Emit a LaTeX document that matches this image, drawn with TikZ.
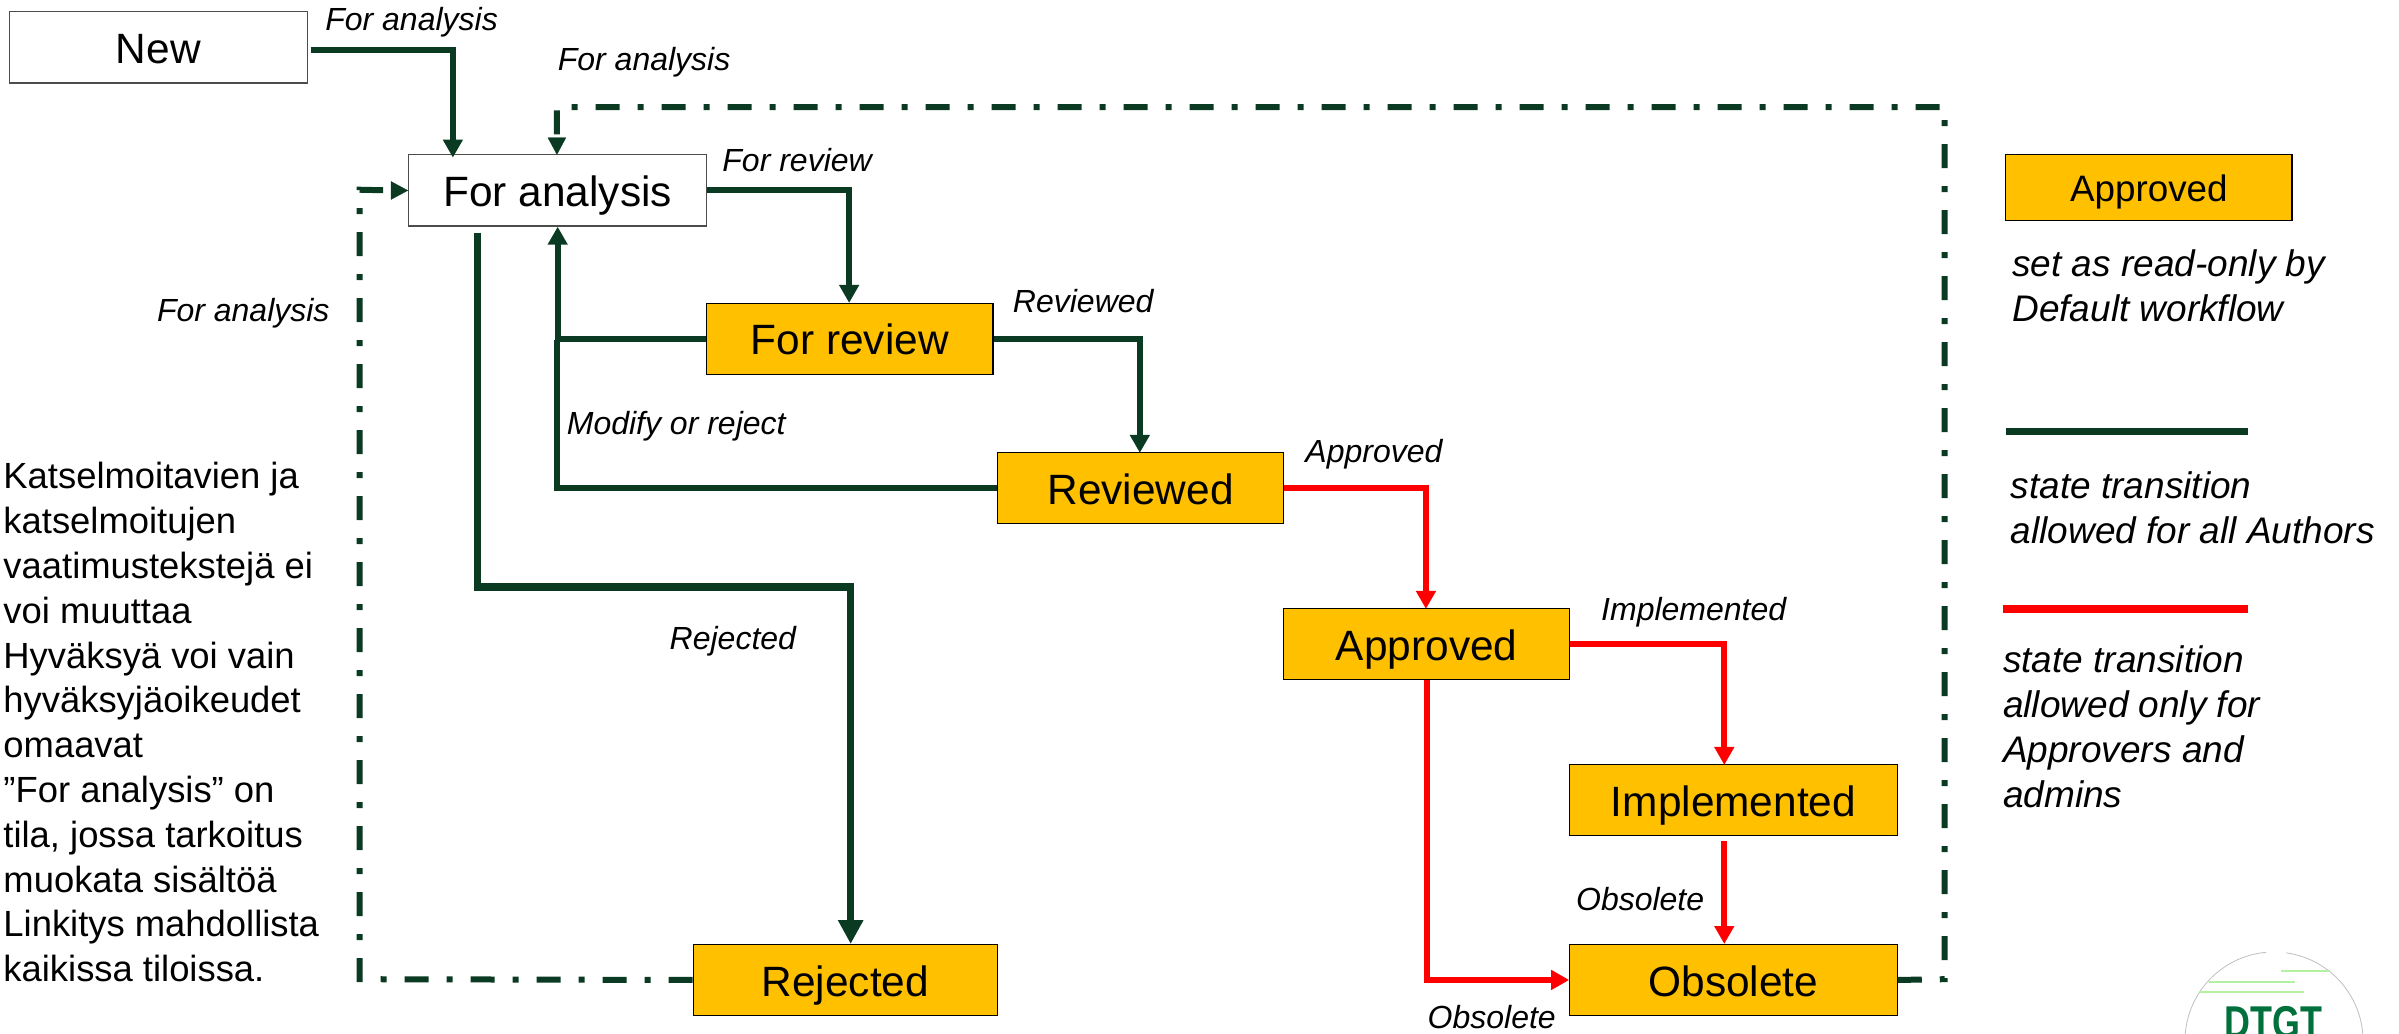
\documentclass[tikz,border=0pt]{standalone}
\usepackage{fontspec}
\setmainfont{Liberation Sans}
\usetikzlibrary{arrows.meta,calc}
\definecolor{dkgreen}{HTML}{0B3A22}
\definecolor{amber}{HTML}{FFC000}
\definecolor{logogreen}{HTML}{00703C}
\definecolor{logolight}{HTML}{B5F0A0}
\tikzset{
  stbox/.style={draw=black,line width=0.6pt,rectangle,inner sep=0pt,text height=17pt,text depth=0.9pt,font=\fontsize{21.2}{25}\selectfont},
  whitebox/.style={stbox,fill=white,draw=black!70},
  ambox/.style={stbox,fill=amber},
  lbl/.style={inner sep=0pt,text height=12.5pt,text depth=1.44pt,font=\fontsize{16}{19}\selectfont\itshape},
  legtxt/.style={inner sep=0pt,anchor=north west,align=left,font=\fontsize{18.5}{22.4}\selectfont\itshape},
  tipg/.style={-{Triangle[width=9.5pt,length=9pt]}},
  green/.style={draw=dkgreen,line width=3pt,tipg},
  greenplain/.style={draw=dkgreen,line width=3pt},
  greenbig/.style={draw=dkgreen,line width=3.8pt,-{Triangle[width=12pt,length=12pt]}},
  redarr/.style={draw=red,line width=3pt,tipg},
  dashdot/.style={draw=dkgreen,line width=3pt,dash pattern=on 12pt off 9pt on 3pt off 9pt},
}
\begin{document}
\begin{tikzpicture}[x=0.765pt,y=-0.765pt]
\useasboundingbox (0,0) rectangle (1568,675.2);
% state boxes
\node[whitebox,minimum width=149.2pt,minimum height=35.6pt] (new) at (103.5,31) {New};
\node[whitebox,minimum width=149.2pt,minimum height=35.6pt] (fa) at (364.5,124.5) {For analysis};
\node[ambox,minimum width=143.1pt,minimum height=35.6pt] (fr) at (555.5,221.5) {For review};
\node[ambox,minimum width=143.1pt,minimum height=35.6pt] (rv) at (745.5,319) {Reviewed};
\node[ambox,minimum width=143.1pt,minimum height=35.6pt] (ap) at (932.5,421) {Approved};
\node[ambox,minimum width=163.7pt,minimum height=35.6pt] (im) at (1133,523) {Implemented};
\node[ambox,minimum width=152.2pt,minimum height=35.6pt] (rj) at (552.5,640.5) {Rejected};
\node[ambox,minimum width=163.7pt,minimum height=35.6pt] (ob) at (1133,640.5) {Obsolete};
% waypoints and free ends
\coordinate (newout) at (203,33);
\coordinate (fain) at (296,103);
\coordinate (fatop) at (364,101);
\coordinate (faout) at (312,152);
\coordinate (joinb) at (364,222);
\coordinate (rjtop) at (556,617);
\coordinate (imout) at (1127,550);
\coordinate (obtop) at (1127,617);
\coordinate (imtop) at (1127,500);
\coordinate (frtop) at (555,198);
\coordinate (rvtop) at (745,296);
\coordinate (aptop) at (932,398);
\coordinate (obwp) at (1271,640);
\coordinate (tr) at (1271,70);
\coordinate (rjwp) at (235,640);
\coordinate (lt) at (235,124);
% solid green
\draw[green] (newout) -| (fain);
\draw[green] (fa.east) -| (frtop);
\draw[greenbig] (faout) |- (434,383.5) -| (rjtop);
\draw[greenplain] (rv.west) -| (joinb);
\draw[green] (fr.west) -| (fa.south);
\draw[green] (fr.east) -| (rvtop);
% red
\draw[redarr] (rv.east) -| (aptop);
\draw[redarr] (ap.east) -| (imtop);
\draw[redarr] (imout) -- (obtop);
\draw[redarr] (ap.south) |- (ob.west);
% dash-dot
\draw[dashdot] (ob.east) -- (obwp) -- (tr) -- ($(fatop)+(0,-31)$) -- ($(fatop)+(0,-9)$);
\draw[draw=dkgreen,line width=0.1pt,fill=dkgreen] (fatop) -- ++(-5.9,-11) -- ++(11.8,0) -- cycle;
\draw[dashdot] (rj.west) -- (rjwp) -- (lt) -- ($(fa.west)+(-9,0)$);
\draw[draw=dkgreen,line width=0.1pt,fill=dkgreen] (fa.west) -- ++(-11,-5.9) -- ++(0,11.8) -- cycle;
% labels
\node[lbl] (l1) at (269,13) {For analysis};
\node[lbl] (l2) at (421,39) {For analysis};
\node[lbl] (l3) at (521,105) {For review};
\node[lbl] (l4) at (708,197) {Reviewed};
\node[lbl] (l5) at (159,203) {For analysis};
\node[lbl] (l6) at (442,277) {Modify or reject};
\node[lbl] (l7) at (898,295) {Approved};
\node[lbl] (l8) at (479,417) {Rejected};
\node[lbl] (l9) at (1107,398) {Implemented};
\node[lbl] (l10) at (1072,588) {Obsolete};
\node[lbl] (l11) at (975,665) {Obsolete};
% left text
\node[inner sep=0pt,anchor=north west,align=left,font=\fontsize{18.2}{22.4}\selectfont] (note) at (2,302) {Katselmoitavien ja\\katselmoitujen\\vaatimustekstejä ei\\voi muuttaa\\Hyväksyä voi vain\\hyväksyjäoikeudet\\omaavat\\”For analysis” on\\tila, jossa tarkoitus\\muokata sisältöä\\Linkitys mahdollista\\kaikissa tiloissa.};
% legend
\node[draw=black,line width=0.6pt,fill=amber,inner sep=0pt,minimum width=143.1pt,minimum height=32.9pt,text height=14.5pt,text depth=0.5pt,font=\fontsize{18.4}{22}\selectfont] (lgbox) at (1404.5,122.5) {Approved};
\node[legtxt] (lg1) at (1315,163) {set as read-only by\\Default workflow};
\coordinate (lga) at (1311,282);
\coordinate (lgb) at (1469,282);
\draw[draw=dkgreen,line width=3.8pt] (lga) -- (lgb);
\node[legtxt] (lg2) at (1314,308) {state transition\\allowed for all Authors};
\coordinate (lgc) at (1309,398);
\coordinate (lgd) at (1469,398);
\draw[draw=red,line width=3.8pt] (lgc) -- (lgd);
\node[legtxt] (lg3) at (1309,422) {state transition\\allowed only for\\Approvers and\\admins};
% logo
\begin{scope}
\clip (0,0) rectangle (1568,675.2);
\draw[black!25,line width=0.4pt] (1428.1,680.4) arc[start angle=180,end angle=265,radius=58.2];
\draw[black!25,line width=0.4pt] (1494.4,622.8) arc[start angle=278,end angle=360,radius=58.2];
\draw[logolight,line width=1pt] (1491,634.6) -- (1523,634.6);
\draw[logolight,line width=1pt] (1444,641.8) -- (1500,641.8);
\draw[logolight,line width=1pt] (1438,648.3) -- (1506,648.3);
\node[inner sep=0pt,anchor=base,text=logogreen,font=\fontsize{23}{26}\selectfont\bfseries,xscale=0.78] (logo) at (1486,679) {DTGT};
\end{scope}
\end{tikzpicture}
\end{document}
